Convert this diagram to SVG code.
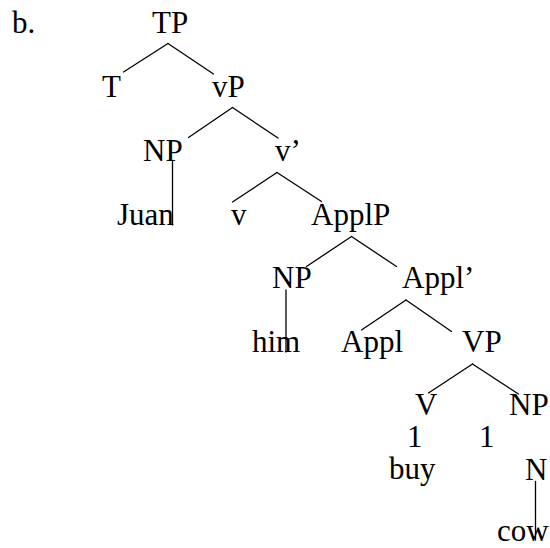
<svg xmlns="http://www.w3.org/2000/svg" width="550" height="548" viewBox="0 0 550 548">
  <style>
    text { font-family: "Liberation Serif", "Times New Roman", serif; font-size: 31px; fill: #000; }
    .edge { stroke: #000; stroke-width: 1.3; fill: none; stroke-linecap: round; }
  </style>
  <rect width="550" height="548" fill="#fff"/>
  <text id="label" x="12" y="33">b.</text>

  <!-- tree branches -->
  <g id="connectors">
    <line class="edge" x1="168" y1="43.5" x2="123.5" y2="72"/>
    <line class="edge" x1="168" y1="43.5" x2="213.5" y2="74"/>
    <line class="edge" x1="232.5" y1="107.5" x2="188.5" y2="137.5"/>
    <line class="edge" x1="232.5" y1="107.5" x2="278" y2="138"/>
    <line class="edge" x1="172.5" y1="161" x2="172.5" y2="225"/>
    <line class="edge" x1="277" y1="172.5" x2="232.5" y2="202"/>
    <line class="edge" x1="277" y1="172.5" x2="321.5" y2="201.5"/>
    <line class="edge" x1="351.5" y1="236.5" x2="306.5" y2="266.5"/>
    <line class="edge" x1="351.5" y1="236.5" x2="396.5" y2="266.5"/>
    <line class="edge" x1="286" y1="290" x2="286" y2="352"/>
    <line class="edge" x1="406" y1="300" x2="361.5" y2="330"/>
    <line class="edge" x1="406" y1="300" x2="451.5" y2="331.5"/>
    <line class="edge" x1="472.5" y1="364" x2="428.5" y2="393"/>
    <line class="edge" x1="472.5" y1="364" x2="518.5" y2="394"/>
    <line class="edge" x1="535.5" y1="481.5" x2="535.5" y2="540"/>
  </g>

  <!-- tree nodes -->
  <g id="n-TP"><text x="152" y="33">TP</text></g>
  <g id="n-T"><text x="102" y="97">T</text></g>
  <g id="n-vP"><text x="212" y="97">vP</text></g>
  <g id="n-NP1"><text x="143" y="161">NP</text></g>
  <g id="n-vbar"><text x="275" y="161">v’</text></g>
  <g id="n-Juan"><text x="117" y="225">Juan</text></g>
  <g id="n-v"><text x="231" y="225">v</text></g>
  <g id="n-ApplP"><text x="311" y="225">ApplP</text></g>
  <g id="n-NP2"><text x="272" y="288">NP</text></g>
  <g id="n-Applbar"><text x="402" y="288">Appl’</text></g>
  <g id="n-him"><text x="252" y="352">him</text></g>
  <g id="n-Appl"><text x="341" y="352">Appl</text></g>
  <g id="n-VP"><text x="462" y="352">VP</text></g>
  <g id="n-V"><text x="415" y="415">V</text></g>
  <g id="n-NP3"><text x="509" y="415">NP</text></g>
  <g id="n-1a"><text x="407" y="447">1</text></g>
  <g id="n-1b"><text x="479" y="447">1</text></g>
  <g id="n-buy"><text x="389" y="479">buy</text></g>
  <g id="n-N"><text x="525" y="480">N</text></g>
  <g id="n-cow"><text x="497" y="541">cow</text></g>
</svg>
